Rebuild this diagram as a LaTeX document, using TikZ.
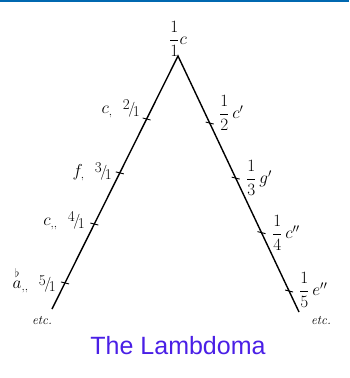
\documentclass[tikz,border=0pt]{standalone}
\usepackage{fontspec}
\usepackage{amsmath,amssymb}
\usetikzlibrary{calc}
\newfontfamily\titlefont{Liberation Sans}
\definecolor{topblue}{HTML}{0068B0}
\definecolor{titleviolet}{HTML}{4A1FE6}
\newcommand{\slfr}[2]{{\fontsize{15}{15}\selectfont\raisebox{0.5ex}{#1}\kern-0.1em/\kern-0.15em\raisebox{-0.45ex}{#2}}}
\begin{document}
\begin{tikzpicture}[x=1pt,y=-1pt,
  leg/.style={line width=1.4pt,black},
  tick/.style={line width=0.9pt,black},
  note/.style={font=\fontsize{17}{19}\selectfont,inner sep=0pt},
  etcnote/.style={font=\fontsize{13}{15}\selectfont\itshape,inner sep=0pt},
  title/.style={font=\titlefont\fontsize{25}{28}\selectfont,text=titleviolet,inner sep=0pt}]
\useasboundingbox (0,0) rectangle (349,378);
\draw[topblue,line width=1.6pt] (0,0.8) -- (349,0.8);
% apex and legs
\coordinate (A) at (178,56);
\coordinate (L) at (52,309);
\coordinate (R) at (299,312);
\draw[leg] (L) -- (A) -- (R);
% ticks on left leg
\foreach \t/\n in {0.249/l1,0.462/l2,0.664/l3,0.897/l4}{
  \coordinate (\n) at ($(A)!\t!(L)$);
  \draw[tick] ([xshift=-4pt,yshift=1pt]\n) -- ([xshift=4pt,yshift=-1pt]\n);
}
\foreach \t/\n in {0.262/r1,0.477/r2,0.690/r3,0.918/r4}{
  \coordinate (\n) at ($(A)!\t!(R)$);
  \draw[tick] ([xshift=-4pt,yshift=1pt]\n) -- ([xshift=4pt,yshift=-1pt]\n);
}
% labels
\node[note] (top) at (178,39) {$\dfrac{1}{1}c$};
\node[note,anchor=east] (nl1) at (140,109) {$c_{,}$\ \ \slfr{2}{1}};
\node[note,anchor=east] (nl2) at (112,172) {$f_{,}$\ \ \slfr{3}{1}};
\node[note,anchor=east] (nl3) at (85,221) {$c_{,,}$\ \ \slfr{4}{1}};
\node[note,anchor=east] (nl4) at (56,280) {$\overset{\flat}{a}_{,,}$\ \ \slfr{5}{1}};
\node[etcnote] (etcl) at (42,320) {etc.};
\node[note,anchor=west] (nr1) at (219,113) {$\dfrac{1}{2}\,c'$};
\node[note,anchor=west] (nr2) at (246,178) {$\dfrac{1}{3}\,g'$};
\node[note,anchor=west] (nr3) at (272,233) {$\dfrac{1}{4}\,c''$};
\node[note,anchor=west] (nr4) at (299,290) {$\dfrac{1}{5}\,e''$};
\node[etcnote] (etcr) at (321,320) {etc.};
\node[title] (ttl) at (178,346) {The Lambdoma};
\end{tikzpicture}
\end{document}
